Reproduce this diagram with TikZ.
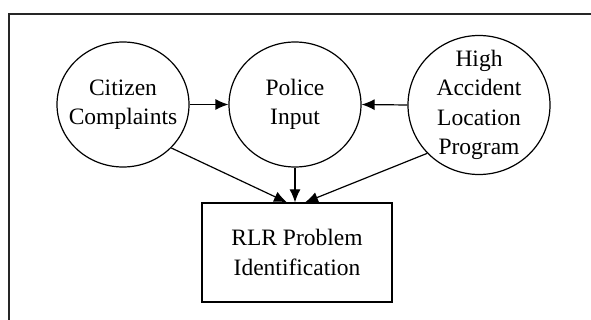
\documentclass[tikz,border=0pt]{standalone}
\usepackage{fontspec}
\setmainfont{Liberation Serif}
\usetikzlibrary{shapes,arrows.meta}
\tikzstyle{source} = [ellipse, draw, line width=1.2pt, align=center,
                     inner sep=-8pt, minimum width=132pt, minimum height=125pt,
                     font=\fontsize{23.5}{29.5}\selectfont]
\tikzstyle{target} = [rectangle, sharp corners, draw, line width=1.2pt, align=center,
                     minimum width=190pt, minimum height=99pt,
                     font=\fontsize{23.5}{30}\selectfont]
\tikzstyle{feed} = [line width=1.2pt, -{Latex[length=13pt,width=11pt]}]

\begin{document}
\begin{tikzpicture}[x=1pt,y=-1pt]
\useasboundingbox (0,0) rectangle (591,320);
% frame
\draw[line width=2.6pt, black!85] (591,14) -| (9,320);

% sources
\node[source] at (123,104.5) (cc){Citizen\\Complaints};
\node[source] at (295,104.5) (pi){Police\\Input};
\node[source, minimum width=142pt, minimum height=139pt] at (479,105) (hal){High\\Accident\\Location\\Program};

% problem box
\node[target] at (297,252.5) (rlr){RLR Problem\\Identification};

% arrows
\draw[feed] (cc.east) -- (pi.west);
\draw[feed] (hal.west) -- (pi.east);
\draw[feed] (pi.south) -- (pi.south |- rlr.north);
\draw[feed] (cc.-42) -- ([xshift=-10pt]rlr.north);
\draw[feed] (hal.-137) -- ([xshift=8pt]rlr.north);
\end{tikzpicture}
\end{document}
